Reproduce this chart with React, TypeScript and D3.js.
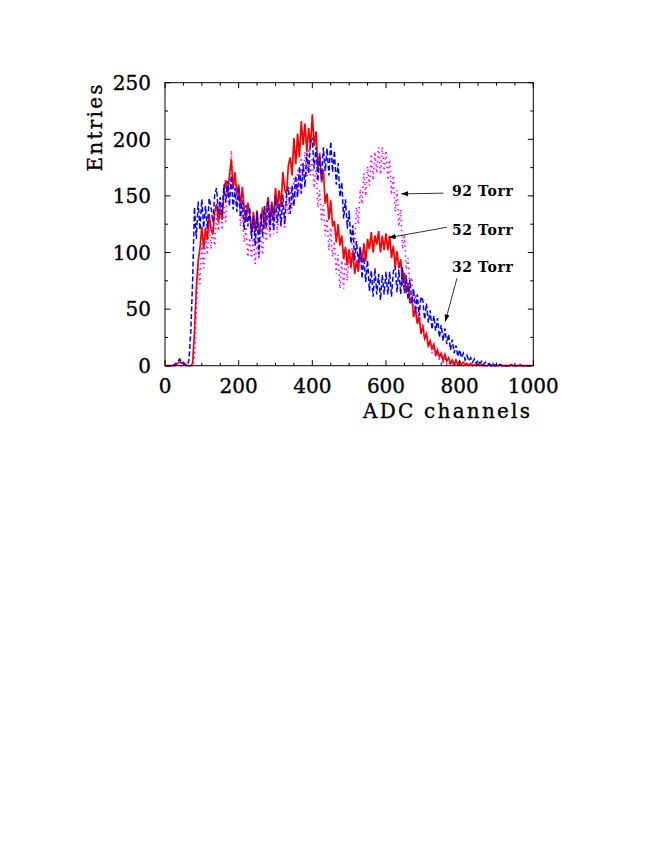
import React from 'react';
import * as d3 from 'd3';

// Histogram samples, one value every 5 ADC channels (0..995)
const CHANNEL_STEP = 5;

const torr52: number[] = [
  0, 0, 0, 0, 0, 0, 1, 2, 4, 2, 3, 1, 0, 0, 0, 2, 30, 68, 92, 104,
  123, 103, 122, 111, 134, 121, 116, 136, 143, 127, 139, 129, 154, 164, 150, 168, 182, 157, 171, 151,
  160, 140, 158, 139, 127, 144, 134, 117, 136, 118, 137, 116, 124, 140, 121, 138, 149, 127, 145, 130,
  157, 139, 155, 140, 171, 155, 152, 177, 184, 168, 201, 178, 205, 184, 216, 195, 214, 189, 210, 193,
  222, 194, 207, 173, 188, 162, 173, 143, 152, 129, 146, 123, 128, 109, 125, 106, 115, 94, 105, 89,
  103, 87, 102, 81, 93, 83, 104, 91, 108, 92, 112, 103, 118, 100, 115, 107, 119, 100, 115, 102,
  117, 102, 115, 95, 106, 87, 101, 86, 94, 71, 82, 64, 73, 55, 61, 43, 50, 37, 43, 28,
  35, 24, 28, 17, 22, 15, 19, 10, 14, 8, 11, 5, 10, 4, 7, 2, 5, 1, 5, 1,
  4, 1, 3, 1, 2, 0, 2, 0, 1, 0, 1, 0, 1, 0, 0, 0, 1, 0, 0, 0,
  0, 0, 1, 0, 0, 0, 0, 0, 1, 0, 0, 0, 0, 1, 0, 0, 0, 0, 0, 0,
];

const torr32: number[] = [
  0, 0, 0, 0, 0, 1, 2, 4, 6, 3, 2, 1, 0, 5, 30, 75, 140, 112, 145, 120,
  147, 122, 141, 121, 148, 140, 127, 151, 157, 134, 149, 132, 160, 144, 163, 141, 168, 138, 157, 136,
  158, 131, 146, 120, 142, 123, 140, 112, 132, 106, 136, 98, 135, 114, 141, 122, 145, 120, 142, 120,
  150, 126, 143, 124, 151, 125, 151, 158, 134, 159, 141, 168, 149, 176, 152, 179, 158, 188, 170, 198,
  200, 174, 193, 163, 185, 165, 193, 172, 192, 168, 198, 171, 190, 160, 179, 149, 162, 130, 147, 121,
  137, 108, 124, 93, 110, 91, 105, 77, 96, 74, 93, 66, 84, 61, 86, 63, 81, 58, 80, 63,
  83, 63, 83, 61, 83, 88, 65, 85, 63, 87, 64, 80, 58, 76, 55, 68, 47, 63, 44, 61,
  58, 41, 55, 38, 49, 32, 44, 31, 42, 25, 36, 22, 33, 19, 28, 14, 23, 11, 18, 8,
  14, 7, 11, 5, 9, 4, 7, 3, 6, 2, 5, 2, 4, 1, 3, 1, 2, 0, 2, 0,
  1, 0, 1, 0, 1, 0, 0, 0, 1, 0, 0, 0, 0, 0, 0, 0, 0, 0, 0, 0,
];

const torr92: number[] = [
  0, 0, 0, 0, 0, 0, 0, 0, 0, 0, 0, 0, 0, 0, 0, 0, 6, 45, 90, 72,
  108, 86, 113, 98, 125, 103, 124, 106, 134, 119, 142, 120, 144, 127, 162, 152, 190, 155, 167, 141,
  154, 123, 138, 109, 123, 96, 113, 95, 113, 90, 113, 94, 114, 98, 126, 110, 133, 113, 138, 116,
  139, 117, 144, 122, 143, 122, 150, 134, 159, 139, 166, 148, 173, 153, 184, 164, 189, 167, 192, 168,
  184, 157, 173, 140, 155, 127, 142, 115, 130, 102, 122, 96, 110, 81, 98, 68, 93, 68, 94, 75,
  100, 86, 121, 108, 140, 125, 156, 143, 170, 150, 176, 159, 187, 164, 189, 170, 193, 169, 193, 172,
  190, 164, 182, 151, 168, 136, 155, 123, 138, 103, 116, 85, 95, 68, 78, 53, 63, 41, 49, 30,
  38, 23, 29, 16, 22, 11, 17, 8, 12, 5, 8, 3, 6, 1, 3, 0, 2, 0, 2, 0,
  1, 0, 0, 0, 1, 0, 0, 0, 0, 0, 1, 0, 0, 0, 0, 0, 0, 0, 1, 0,
  0, 0, 0, 0, 1, 0, 0, 0, 0, 0, 0, 0, 1, 0, 0, 0, 0, 0, 0, 0,
];

const xTicks = [0, 200, 400, 600, 800, 1000];
const yTicks = [0, 50, 100, 150, 200, 250];

// annotations: label, text anchor (channel, entries), arrow tail and tip (channel, entries)
const annotationLabels = ['92 Torr', '52 Torr', '32 Torr'];
const annotationText = [[779, 149.5], [779, 115.9], [779, 82.5]];
const annotationTail = [[756, 152.4], [765.5, 122.3], [792.7, 77.2]];
const annotationTip = [[641, 151.8], [607, 113.1], [760.9, 38.9]];

const W = 654;
const H = 846;

export default function App() {
  const x = d3.scaleLinear().domain([0, 1000]).range([165, 533.3]);
  const y = d3.scaleLinear().domain([0, 250]).range([365.7, 82.7]);
  const line = d3
    .line<number>()
    .x((_, i) => x(i * CHANNEL_STEP))
    .y((d) => y(d));

  const xMinor = d3.range(0, 1001, 50);
  const yMinor = d3.range(0, 251, 25);
  const [x0, x1] = x.range();
  const [y0, y1] = y.range();
  const serif = '"DejaVu Serif", "Liberation Serif", serif';

  const arrowHead = (tail: number[], tip: number[]) => {
    const tx = x(tip[0]);
    const ty = y(tip[1]);
    const dx = tx - x(tail[0]);
    const dy = ty - y(tail[1]);
    const len = Math.hypot(dx, dy);
    const ux = dx / len;
    const uy = dy / len;
    const L = 7;
    const Wd = 2.5;
    const bx = tx - ux * L;
    const by = ty - uy * L;
    return `${tx},${ty} ${bx - uy * Wd},${by + ux * Wd} ${bx + uy * Wd},${by - ux * Wd}`;
  };

  const labelStroke = { stroke: '#000', strokeWidth: 0.35 };

  return (
    <svg
      width={W}
      height={H}
      viewBox={`0 0 ${W} ${H}`}
      style={{ position: 'absolute', left: 0, top: 0, background: '#fff' }}
    >
      <rect x={0} y={0} width={W} height={H} fill="#fff" />
      {/* data */}
      <path d={line(torr92) || ''} fill="none" stroke="#ff00ff" strokeWidth={1.6} strokeDasharray="1.5,3.5" />
      <path d={line(torr52) || ''} fill="none" stroke="#ff0000" strokeWidth={1.7} />
      <path d={line(torr32) || ''} fill="none" stroke="#0000ff" strokeWidth={1.5} strokeDasharray="5,2.5" />

      {/* frame */}
      <rect x={x0} y={y1} width={x1 - x0} height={y0 - y1} fill="none" stroke="#000" strokeWidth={1} />
      {xMinor.map((t) => {
        const len = t % 200 === 0 ? 5.5 : 3;
        return (
          <g key={'xt' + t}>
            <line x1={x(t)} x2={x(t)} y1={y0} y2={y0 - len} stroke="#000" />
            <line x1={x(t)} x2={x(t)} y1={y1} y2={y1 + len} stroke="#000" />
          </g>
        );
      })}
      {yMinor.map((t) => {
        const len = t % 50 === 0 ? 5.5 : 3;
        return (
          <g key={'yt' + t}>
            <line x1={x0} x2={x0 + len} y1={y(t)} y2={y(t)} stroke="#000" />
            <line x1={x1} x2={x1 - len} y1={y(t)} y2={y(t)} stroke="#000" />
          </g>
        );
      })}
      {xTicks.map((t) => (
        <text key={'xl' + t} x={x(t)} y={393} textAnchor="middle" fontFamily={serif} fontSize={20} fill="#000" {...labelStroke}>
          {t}
        </text>
      ))}
      {yTicks.map((t) => (
        <text key={'yl' + t} x={151} y={y(t)} dy="0.36em" textAnchor="end" fontFamily={serif} fontSize={20} fill="#000" {...labelStroke}>
          {t}
        </text>
      ))}
      <text x={363} y={418} fontFamily={serif} fontSize={20} textLength={167} lengthAdjust="spacing" fill="#000" {...labelStroke}>
        ADC channels
      </text>
      <text
        transform="translate(102,171.5) rotate(-90)"
        fontFamily={serif}
        fontSize={20}
        textLength={87}
        lengthAdjust="spacing"
        fill="#000"
        {...labelStroke}
      >
        Entries
      </text>

      {/* annotations */}
      {annotationLabels.map((lab, i) => (
        <g key={lab}>
          <line
            x1={x(annotationTail[i][0])}
            y1={y(annotationTail[i][1])}
            x2={x(annotationTip[i][0])}
            y2={y(annotationTip[i][1])}
            stroke="#000"
            strokeWidth={0.8}
          />
          <polygon points={arrowHead(annotationTail[i], annotationTip[i])} fill="#000" />
          <text
            x={x(annotationText[i][0])}
            y={y(annotationText[i][1])}
            fontFamily={serif}
            fontSize={14}
            fontWeight={600}
            textLength={61}
            lengthAdjust="spacing"
            fill="#000"
          >
            {lab}
          </text>
        </g>
      ))}
    </svg>
  );
}
